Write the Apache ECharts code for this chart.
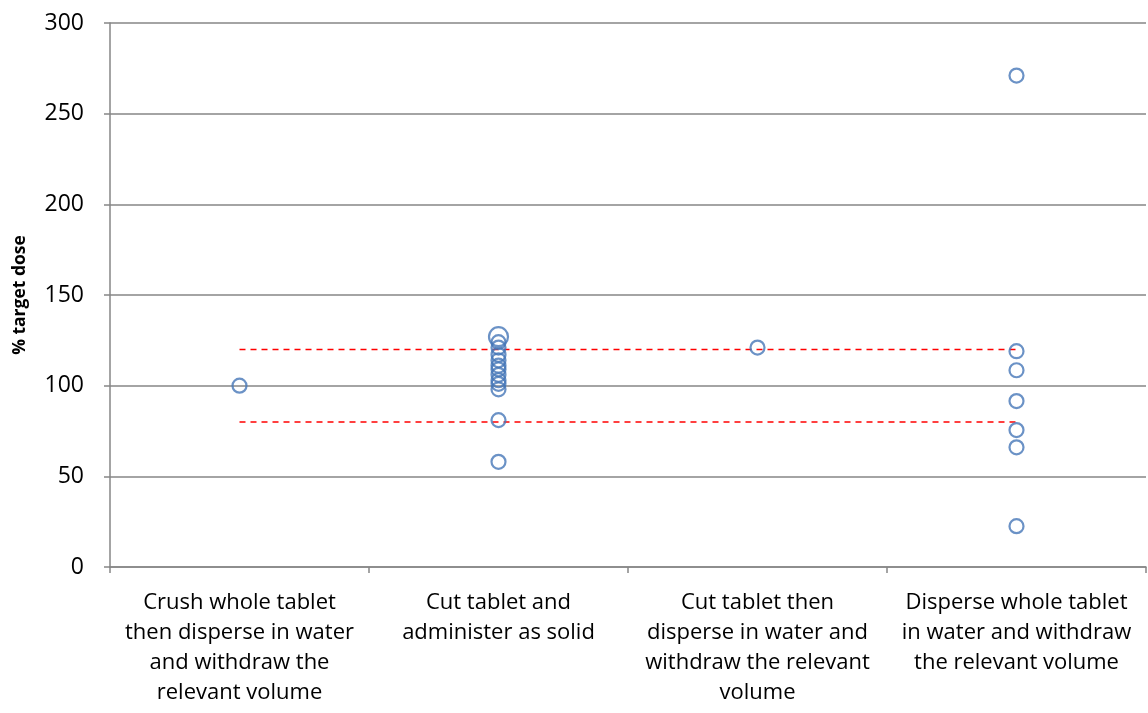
<!DOCTYPE html>
<html>
<head>
<meta charset="UTF-8">
<script src="https://cdn.jsdelivr.net/npm/echarts@6/dist/echarts.min.js"></script>
<style>
  html, body { margin: 0; padding: 0; background: #fff; }
  #chart { width: 1148px; height: 713px; }
</style>
</head>
<body>
<div id="chart"></div>
<script>
// categories (x axis)
var categories = [
    'Crush whole tablet\nthen disperse in water\nand withdraw the\nrelevant volume',
    'Cut tablet and\nadminister as solid',
    'Cut tablet then\ndisperse in water and\nwithdraw the relevant\nvolume',
    'Disperse whole tablet\nin water and withdraw\nthe relevant volume'
];

// measured % of target dose, per category
var crushValues = [100];
var cutSolidValues = [124, 121, 117, 114, 111, 109, 106, 103, 101, 98, 81, 58];
var cutBigValue = 127;   // drawn with a larger marker
var cutDisperseValues = [121];
var disperseValues = [271, 119, 108.5, 91.5, 75.5, 66, 22.5];

// acceptance limits
var upperLimit = [120, 120, 120, 120];
var lowerLimit = [80, 80, 80, 80];

var points = [];
function addPts(idx, vals) {
    for (var i = 0; i < vals.length; i++) {
        points.push([idx, vals[i]]);
    }
}
addPts(0, crushValues);
addPts(1, cutSolidValues);
addPts(2, cutDisperseValues);
addPts(3, disperseValues);
points.push({ value: [1, cutBigValue], symbolSize: 19 });

var chart = echarts.init(document.getElementById('chart'));

chart.setOption({
    animation: false,
    textStyle: { fontFamily: '"Open Sans", sans-serif' },
    grid: { left: 110, right: 2, top: 23, bottom: 146 },
    xAxis: {
        type: 'category',
        data: categories,
        boundaryGap: true,
        axisLine: { lineStyle: { color: '#868686', width: 1.5 } },
        axisTick: { show: true, length: 6, lineStyle: { color: '#868686', width: 1.5 } },
        axisLabel: {
            interval: 0,
            color: '#000',
            fontSize: 22,
            lineHeight: 30,
            margin: 21,
            align: 'center'
        },
        splitLine: { show: false }
    },
    yAxis: {
        type: 'value',
        min: 0,
        max: 300,
        interval: 50,
        name: '% target dose',
        nameLocation: 'middle',
        nameGap: 81,
        nameTextStyle: { fontSize: 17.5, fontWeight: 'bold', color: '#000' },
        axisLine: { show: true, lineStyle: { color: '#868686', width: 1.5 } },
        axisTick: { show: true, length: 6, lineStyle: { color: '#868686', width: 1.5 } },
        axisLabel: { color: '#000', fontSize: 23, margin: 26 },
        splitLine: { lineStyle: { color: '#868686', width: 1.5 } }
    },
    series: [
        {
            type: 'line',
            data: upperLimit,
            symbol: 'none',
            lineStyle: { color: '#ff0000', width: 1.5, type: [6, 5] },
            z: 1
        },
        {
            type: 'line',
            data: lowerLimit,
            symbol: 'none',
            lineStyle: { color: '#ff0000', width: 1.5, type: [6, 5] },
            z: 1
        },
        {
            type: 'scatter',
            data: points,
            symbol: 'circle',
            symbolSize: 14,
            itemStyle: {
                color: 'rgba(255,255,255,0)',
                borderColor: '#4677b8',
                borderWidth: 2.2
            },
            z: 3
        }
    ]
});
</script>
</body>
</html>
